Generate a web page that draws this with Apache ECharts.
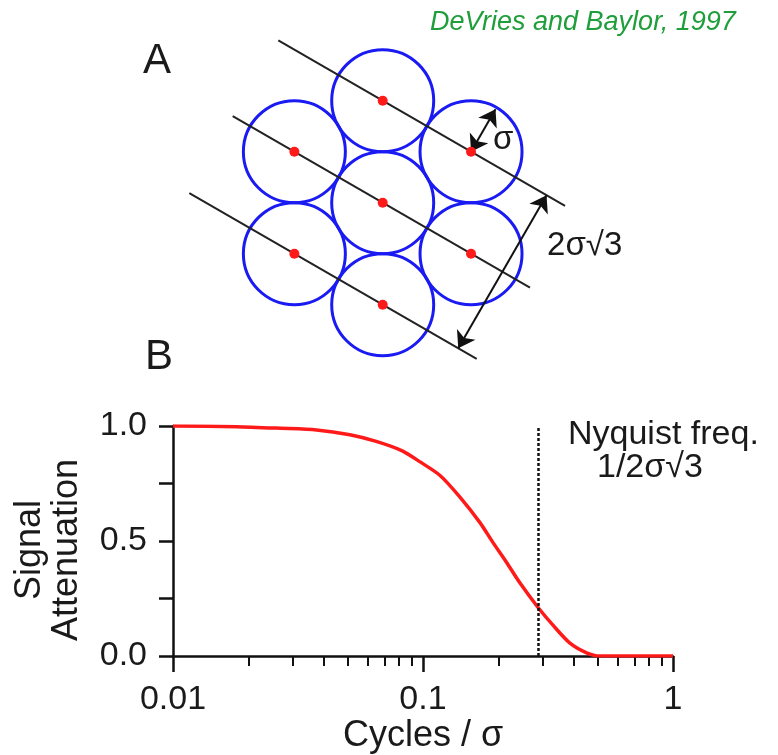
<!DOCTYPE html>
<html>
<head>
<meta charset="utf-8">
<script src="https://cdn.jsdelivr.net/npm/echarts@6/dist/echarts.min.js"></script>
<style>
  html, body { margin: 0; padding: 0; background: #fff; }
  #chart { width: 778px; height: 755px; }
</style>
</head>
<body>
<div id="chart"></div>
<script>
// panel B : attenuation curve (x = cycles / sigma, log scale)
const cycles = [0.01, 0.018, 0.027, 0.0375, 0.051, 0.065, 0.083, 0.097, 0.117, 0.14, 0.169, 0.19, 0.215, 0.244, 0.288, 0.331, 0.386, 0.451, 0.51, 0.7, 1];
const attenuation = [1.0, 0.997, 0.99, 0.983, 0.962, 0.933, 0.891, 0.845, 0.785, 0.693, 0.58, 0.495, 0.41, 0.318, 0.212, 0.134, 0.057, 0.014, 0, 0, 0];
const nyquist = 0.2887;
const xTickLabels = ['0.01', '0.1', '1'];
const yTickLabels = ['0.0', '0.5', '1.0'];

// panel A : cone mosaic, in units of sigma
const coneX = [0, -1.732, 1.732, 0, -1.732, 1.732, 0];
const coneY = [2, 1, 1, 0, -1, -1, -2];
const coneRadius = 1;
// sampling rows: [x1, y1, x2, y2]
const rowLines = [
  [-2.047, 3.182, 3.575, -0.064],
  [-2.941, 1.698, 2.888, -1.667],
  [-3.792, 0.19, 1.843, -3.064]
];
// double arrows: sigma and 2*sigma*sqrt(3)
const arrows = [
  [1.732, 1, 2.212, 1.831],
  [3.213, 0.145, 1.481, -2.855]
];

const FONT = 'Liberation Sans';
const chart = echarts.init(document.getElementById('chart'));

const curve = cycles.map((c, i) => [c, attenuation[i]]);

const option = {
  animation: false,
  backgroundColor: '#fff',
  textStyle: { fontFamily: FONT, color: '#1a1a1a' },
  grid: [
    { left: 173, right: 105, top: 426, bottom: 93 },
    { left: 127.7, top: 24.2, width: 510, height: 408 }
  ],
  xAxis: [
    {
      type: 'log', logBase: 10, min: 0.01, max: 1, gridIndex: 0,
      axisLine: { show: true, lineStyle: { color: '#111', width: 2.5 } },
      axisTick: { show: true, length: 16, lineStyle: { color: '#111', width: 2.5 } },
      minorTick: { show: true, splitNumber: 9, length: 10, lineStyle: { color: '#111', width: 2 } },
      splitLine: { show: false },
      axisLabel: {
        fontSize: 34, margin: 27, color: '#1a1a1a', fontFamily: FONT,
        formatter: function (v) {
          const k = Math.round(Math.log10(v)) + 2;
          return xTickLabels[k] || '';
        }
      },
      name: 'Cycles / σ', nameLocation: 'middle', nameGap: 62,
      nameTextStyle: { fontSize: 36, color: '#1a1a1a', fontFamily: FONT }
    },
    { type: 'value', gridIndex: 1, min: -5, max: 5, show: false }
  ],
  yAxis: [
    {
      type: 'value', min: 0, max: 1, interval: 0.25, gridIndex: 0,
      axisLine: { show: true, lineStyle: { color: '#111', width: 2.5 } },
      axisTick: { show: true, length: 14, lineStyle: { color: '#111', width: 2.5 } },
      splitLine: { show: false },
      axisLabel: {
        fontSize: 34, margin: 26, color: '#1a1a1a', fontFamily: FONT,
        formatter: function (v) {
          const k = v * 2;
          return Math.abs(k - Math.round(k)) < 1e-6 ? yTickLabels[Math.round(k)] : '';
        }
      },
      name: 'Signal\nAttenuation', nameLocation: 'middle', nameRotate: 90, nameGap: 87,
      nameTextStyle: { fontSize: 36, lineHeight: 37, color: '#1a1a1a', fontFamily: FONT, padding: [0, 18, 0, 0] }
    },
    { type: 'value', gridIndex: 1, min: -4.5, max: 3.5, show: false }
  ],
  series: [
    {
      type: 'line', xAxisIndex: 0, yAxisIndex: 0,
      data: curve, showSymbol: false, smooth: 0.25,
      lineStyle: { color: '#ff1a1a', width: 3.5 },
      markLine: {
        silent: true, symbol: ['none', 'none'], label: { show: false },
        lineStyle: { color: '#111', width: 2.5, type: [3, 2] },
        data: [{ xAxis: nyquist }]
      },
      z: 3
    },
    {
      type: 'custom', xAxisIndex: 1, yAxisIndex: 1,
      data: coneX.map((x, i) => [x, coneY[i]]),
      renderItem: function (params, api) {
        const c = api.coord([api.value(0), api.value(1)]);
        const r = api.size([coneRadius, coneRadius]);
        return {
          type: 'ellipse',
          shape: { cx: c[0], cy: c[1], rx: r[0], ry: r[1] },
          style: { fill: 'none', stroke: '#1a1af2', lineWidth: 3 }
        };
      },
      z: 1
    },
    {
      type: 'lines', coordinateSystem: 'cartesian2d', xAxisIndex: 1, yAxisIndex: 1,
      data: rowLines.map(l => ({ coords: [[l[0], l[1]], [l[2], l[3]]] })),
      symbol: ['none', 'none'],
      lineStyle: { color: '#222', width: 2, opacity: 1 },
      z: 2
    },
    {
      type: 'lines', coordinateSystem: 'cartesian2d', xAxisIndex: 1, yAxisIndex: 1,
      data: arrows.map(l => ({ coords: [[l[0], l[1]], [l[2], l[3]]] })),
      symbol: ['arrow', 'arrow'], symbolSize: 16,
      lineStyle: { color: '#111', width: 2, opacity: 1 },
      itemStyle: { color: '#111' },
      z: 4
    },
    {
      type: 'scatter', xAxisIndex: 1, yAxisIndex: 1,
      data: coneX.map((x, i) => [x, coneY[i]]),
      symbolSize: 10, itemStyle: { color: '#ff1a1a', opacity: 1 }, z: 5
    },
    {
      type: 'scatter', xAxisIndex: 1, yAxisIndex: 1, symbolSize: 0, silent: true,
      itemStyle: { opacity: 1 },
      data: [
        { name: 'σ', value: [2.36, 1.24] },
        { name: '2σ√3', value: [3.96, -0.84] }
      ],
      label: {
        show: true, position: 'inside', formatter: '{b}',
        fontSize: 33, color: '#1a1a1a', fontFamily: FONT, opacity: 1
      },
      z: 6
    }
  ],
  graphic: [
    { type: 'text', left: 143, top: 40, style: { text: 'A', font: '42px "Liberation Sans"', fill: '#1a1a1a' } },
    { type: 'text', left: 145, top: 336, style: { text: 'B', font: '42px "Liberation Sans"', fill: '#1a1a1a' } },
    { type: 'text', left: 430, top: 9, style: { text: 'DeVries and Baylor, 1997', font: 'italic 27px "Liberation Sans"', fill: '#1f9e3b' } },
    { type: 'text', left: 568, top: 418, style: { text: 'Nyquist freq.', font: '34px "Liberation Sans"', fill: '#1a1a1a' } },
    { type: 'text', left: 597, top: 451, style: { text: '1/2σ√3', font: '34px "Liberation Sans"', fill: '#1a1a1a' } }
  ]
};

chart.setOption(option);
</script>
</body>
</html>
